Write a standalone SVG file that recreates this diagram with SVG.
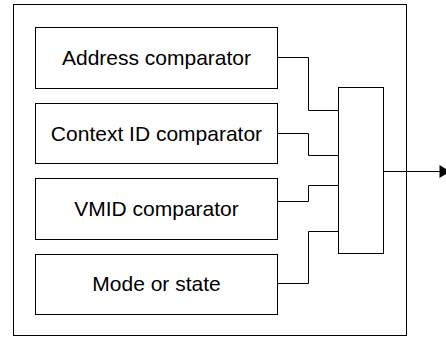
<svg xmlns="http://www.w3.org/2000/svg" width="446" height="339" viewBox="0 0 446 339">
<style>
.box{fill:#fff;stroke:#000;stroke-width:1}
.line{fill:none;stroke:#000;stroke-width:1}
.t{font-family:"Liberation Sans",Arial,sans-serif;font-size:21px;fill:#000;text-anchor:middle}
</style>
<rect width="446" height="339" fill="#fff"/>
<g id="outer"><rect class="box" x="13.5" y="4.5" width="393" height="331"/></g>
<g id="address"><rect class="box" x="35.5" y="27.5" width="242" height="61"/><text class="t" x="156.5" y="64.5">Address comparator</text></g>
<g id="context"><rect class="box" x="35.5" y="103.5" width="242" height="60"/><text class="t" x="156.5" y="140.5">Context ID comparator</text></g>
<g id="vmid"><rect class="box" x="35.5" y="178.5" width="242" height="61"/><text class="t" x="156.5" y="215.5">VMID comparator</text></g>
<g id="mode"><rect class="box" x="35.5" y="254.5" width="242" height="60"/><text class="t" x="156.5" y="291">Mode or state</text></g>
<g id="combiner"><rect class="box" x="338.5" y="87.5" width="45" height="166"/></g>
<g id="connectors">
<path class="line" d="M277.5,57.5 H308.5 V110.5 H338.5"/>
<path class="line" d="M277.5,133.5 H308.5 V155.5 H338.5"/>
<path class="line" d="M277.5,201.5 H308.5 V185.5 H338.5"/>
<path class="line" d="M277.5,283.5 H308.5 V231.5 H338.5"/>
<path class="line" d="M383.5,171.5 H440"/>
<path d="M439.5,165 L450,171.5 L439.5,178 Z" fill="#000"/>
</g>
</svg>
